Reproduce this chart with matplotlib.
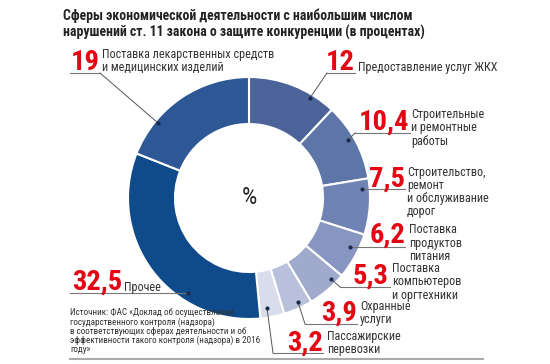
import matplotlib
matplotlib.use("Agg")
import matplotlib.pyplot as plt

plt.rcParams['font.family'] = ['Roboto Condensed', 'DejaVu Sans']

# данные
values = [12, 10.4, 7.5, 6.2, 5.3, 3.9, 3.2, 32.5, 19]
labels = [
    "Предоставление услуг ЖКХ",
    "Строительные\nи ремонтные\nработы",
    "Строительство,\nремонт\nи обслуживание\nдорог",
    "Поставка\nпродуктов\nпитания",
    "Поставка\nкомпьютеров\nи оргтехники",
    "Охранные\nуслуги",
    "Пассажирские\nперевозки",
    "Прочее",
    "Поставка лекарственных средств\nи медицинских изделий",
]
colors = ["#4b6399", "#5e75a8", "#7083b5", "#8796c0", "#a0aacd",
          "#b8c0db", "#d9dcea", "#0f4a8a", "#2e5796"]

title = ("Сферы экономической деятельности с наибольшим числом\n"
         "нарушений ст. 11 закона о защите конкуренции (в процентах)")
source = ("Источник: ФАС «Доклад об осуществлении\n"
          "государственного контроля (надзора)\n"
          "в соответствующих сферах деятельности и об\n"
          "эффективности такого контроля (надзора) в 2016\n"
          "году»")

# раскладка подписей (пиксели): num_x, num_y, txt_x, txt_y, ul_y, ul_x0, ul_x1, dot_x, dot_y, side
layout = [
    (355, 62, 358, 68, 73, 327, 355, 310, 98, "r"),
    (409, 122, 411, 128, 133, 355, 410, 348, 140, "r"),
    (405, 179, 407, 192, 189, 362, 405, 362, 189, "r"),
    (405, 235, 409, 243, 247, 350, 405, 350, 247, "r"),
    (389, 276, 392, 282, 287, 340, 390, 331, 279, "r"),
    (357, 313, 360, 313, 324, 305, 357, 298, 302, "r"),
    (323, 343, 327, 343, 353, 273, 323, 267, 308, "r"),
    (122, 282, 124, 287, 293, 70, 188, 188, 293, "l"),
    (100, 62, 102, 61, 73, 70, 100, 158, 123, "l"),
]

W, H = 550, 364
fig = plt.figure(figsize=(W / 100, H / 100), dpi=100)
ax = fig.add_axes([0, 0, 1, 1])

ax.pie(values, colors=colors, center=(249, 198), radius=121,
       startangle=-90, counterclock=True,
       wedgeprops=dict(width=47, edgecolor="white", linewidth=1.5))
ax.set_xlim(0, W)
ax.set_ylim(H, 0)
ax.axis("off")

ax.text(249, 198, "%", ha="center", va="center", fontsize=17.5, color="#222222")

red = "#e30613"
for v, lab, (nx, ny, tx, ty, uy, ux0, ux1, dx, dy, side) in zip(values, labels, layout):
    num = f"{v:g}".replace(".", ",")
    ax.text(nx, ny, num, ha="right", va="center", fontsize=20.5,
            fontweight="bold", color=red)
    ax.text(tx, ty, lab, ha="left", va="center", fontsize=8.7,
            color="#333333", linespacing=1.02)
    ax.plot([ux0, ux1], [uy, uy], color="#777777", lw=0.8)
    sx = ux0 if side == "r" else ux1
    ax.plot([sx, dx], [uy, dy], color="#555555", lw=0.7)
    ax.plot(dx, dy, "o", ms=2, color="#1a2a4a")

ax.text(63, 24, title, ha="left", va="center", fontsize=9.9,
        fontweight="bold", color="#222222", linespacing=1.2)
ax.text(70, 331, source, ha="left", va="center", fontsize=6.6,
        color="#333333", linespacing=0.98)
ax.plot([70, 483], [359, 359], color="#aaaaaa", lw=1.5)

fig.savefig("out.png", dpi=100)
